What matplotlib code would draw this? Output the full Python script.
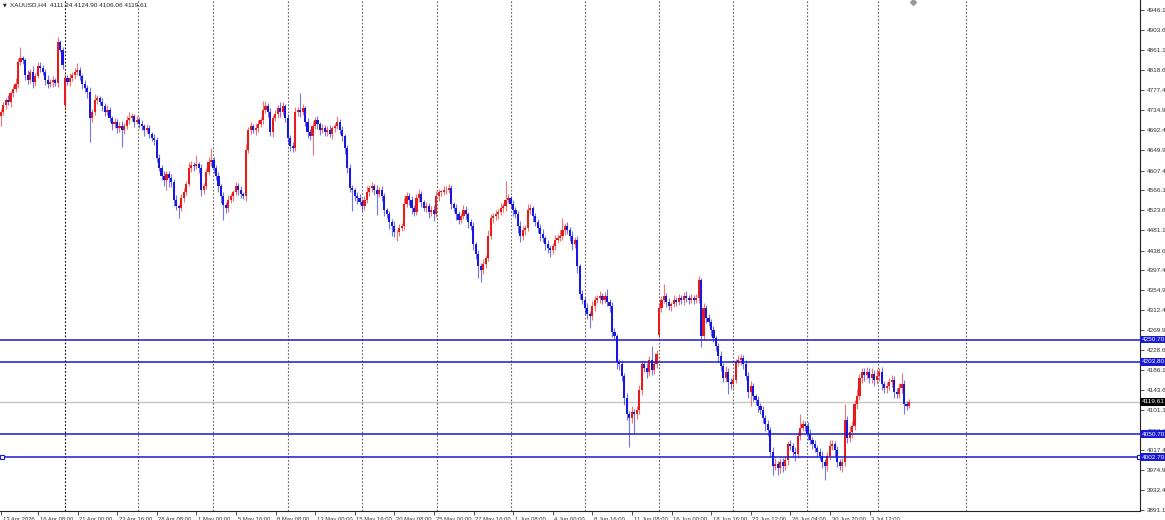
import matplotlib
matplotlib.use("Agg")
import matplotlib.pyplot as plt
import matplotlib.transforms as mtrans
import numpy as np

# ---------------- data ----------------
closes = [
    4731, 4745, 4756, 4751, 4770, 4780, 4790, 4836, 4844, 4840,
    4809, 4798, 4815, 4794, 4807, 4828, 4824, 4815, 4798, 4790,
    4794, 4798, 4792, 4879, 4862, 4830, 4803, 4794, 4803, 4809,
    4815, 4819, 4807, 4790, 4781, 4773, 4718, 4731, 4756, 4760,
    4752, 4743, 4731, 4735, 4718, 4705, 4710, 4697, 4701, 4693,
    4701, 4714, 4718, 4722, 4710, 4714, 4705, 4701, 4693, 4697,
    4684, 4676, 4672, 4634, 4613, 4596, 4587, 4600, 4591, 4583,
    4545, 4532, 4528, 4549, 4562, 4579, 4613, 4619, 4617, 4621,
    4613, 4566, 4575, 4604, 4625, 4629, 4613, 4596, 4575, 4554,
    4534, 4528, 4545, 4553, 4562, 4575, 4566, 4558, 4553, 4651,
    4693, 4701, 4693, 4697, 4705, 4714, 4735, 4743, 4731, 4688,
    4718, 4726, 4739, 4731, 4743, 4718, 4676, 4659, 4655, 4731,
    4735, 4731, 4739, 4710, 4689, 4680, 4701, 4714, 4705, 4693,
    4697, 4689, 4693, 4684, 4697, 4701, 4710, 4693, 4680, 4655,
    4613, 4570, 4566, 4553, 4549, 4541, 4532, 4545, 4562, 4570,
    4575, 4566, 4558, 4566, 4553, 4524, 4515, 4499, 4490, 4477,
    4477, 4486, 4490, 4537, 4553, 4545, 4528, 4520, 4549, 4558,
    4541, 4528, 4532, 4520, 4524, 4515, 4553, 4562, 4562, 4566,
    4566, 4570, 4537, 4528, 4515, 4503, 4511, 4524, 4515, 4499,
    4490, 4452, 4431, 4406, 4397, 4410, 4423, 4469, 4507, 4511,
    4515, 4520, 4528, 4532, 4545, 4549, 4537, 4524, 4515, 4490,
    4469, 4482, 4486, 4524, 4528, 4511, 4499, 4486, 4473, 4465,
    4452, 4444, 4440, 4448, 4461, 4465, 4469, 4482, 4490, 4482,
    4469, 4452, 4461, 4406, 4347, 4334, 4317, 4304, 4300, 4321,
    4334, 4338, 4343, 4334, 4343, 4330, 4321, 4266, 4258, 4203,
    4199, 4174, 4127, 4093, 4085, 4098, 4093, 4102, 4144, 4199,
    4191, 4182, 4207, 4186, 4199, 4220, 4317, 4334, 4343, 4330,
    4321, 4326, 4334, 4330, 4338, 4334, 4343, 4338, 4334, 4338,
    4334, 4338, 4376, 4258, 4317, 4296, 4288, 4271, 4254, 4237,
    4216, 4195, 4170, 4182, 4161, 4157, 4165, 4203, 4207, 4212,
    4199, 4174, 4140, 4153, 4131, 4123, 4110, 4102, 4085, 4072,
    4060, 4013, 3984, 3988, 3980, 3992, 3984, 3996, 4030, 4026,
    4013, 4009, 4047, 4064, 4072, 4068, 4051, 4039, 4030, 4022,
    4013, 4005, 3992, 3984, 4005, 4026, 4030, 4018, 3992, 3984,
    3992, 4081, 4043, 4056, 4068, 4115, 4131, 4169, 4182, 4176,
    4182, 4169, 4178, 4165, 4174, 4182, 4157, 4148, 4153, 4161,
    4165, 4140, 4136, 4148, 4157, 4115, 4111.24, 4119.61,
]

up_wick = [
    6, 8, 5, 10, 6, 8, 12, 9, 24, 6,
    5, 10, 7, 12, 6, 9, 8, 5, 7, 10,
    6, 9, 5, 10, 4, 6, 8, 6, 10, 7,
    8, 15, 6, 5, 8, 6, 10, 7, 12, 6,
    5, 8, 6, 10, 7, 5, 9, 6, 8, 10,
    6, 9, 12, 7, 5, 8, 6, 10, 5, 8,
    7, 5, 9, 6, 8, 5, 10, 7, 6, 9,
    6, 10, 5, 8, 9, 7, 12, 8, 6, 20,
    5, 8, 6, 9, 10, 25, 7, 6, 8, 5,
    8, 6, 10, 7, 5, 9, 6, 8, 5, 12,
    6, 9, 5, 8, 10, 7, 20, 12, 6, 8,
    7, 10, 6, 12, 8, 5, 9, 6, 8, 10,
    6, 35, 8, 5, 9, 6, 10, 7, 8, 5,
    9, 6, 8, 10, 5, 7, 12, 6, 8, 5,
    6, 9, 7, 5, 10, 8, 6, 9, 12, 7,
    8, 5, 10, 6, 9, 7, 5, 8, 6, 10,
    5, 8, 6, 12, 10, 7, 9, 6, 8, 10,
    7, 5, 9, 6, 8, 10, 12, 7, 5, 9,
    8, 10, 6, 5, 9, 7, 6, 10, 8, 5,
    6, 9, 5, 8, 7, 10, 6, 12, 8, 6,
    9, 7, 10, 6, 40, 8, 5, 9, 7, 6,
    10, 8, 6, 12, 9, 5, 7, 6, 8, 10,
    5, 9, 7, 6, 10, 8, 12, 25, 6, 8,
    7, 10, 6, 8, 5, 9, 6, 10, 7, 12,
    8, 6, 10, 7, 9, 15, 6, 8, 10, 5,
    7, 9, 6, 10, 8, 12, 7, 9, 10, 8,
    6, 10, 8, 30, 7, 9, 10, 8, 25, 6,
    8, 5, 10, 7, 9, 6, 8, 10, 7, 9,
    6, 8, 8, 5, 10, 7, 9, 6, 8, 5,
    7, 10, 6, 12, 8, 9, 10, 7, 12, 8,
    6, 9, 8, 10, 7, 5, 9, 6, 8, 7,
    8, 6, 10, 12, 7, 9, 8, 10, 6, 9,
    7, 10, 8, 30, 9, 6, 8, 10, 7, 9,
    6, 8, 10, 7, 9, 12, 8, 6, 9, 7,
    8, 34, 9, 12, 10, 8, 15, 10, 9, 8,
    10, 8, 12, 9, 15, 8, 10, 7, 9, 8,
    10, 8, 9, 12, 23, 8, 7, 5.29,
]

down_wick = [
    20, 6, 8, 5, 10, 7, 6, 9, 5, 8,
    10, 7, 6, 12, 8, 5, 9, 6, 10, 8,
    7, 10, 6, 8, 5, 9, 10, 6, 8, 7,
    9, 6, 8, 10, 7, 12, 50, 8, 6, 9,
    7, 10, 8, 6, 9, 12, 7, 10, 8, 35,
    8, 6, 9, 7, 10, 5, 8, 9, 12, 6,
    9, 7, 10, 8, 6, 9, 12, 20, 18, 10,
    12, 8, 20, 6, 9, 7, 5, 8, 10, 6,
    10, 12, 8, 6, 7, 9, 10, 8, 12, 15,
    30, 10, 8, 6, 9, 7, 10, 8, 6, 9,
    7, 9, 6, 10, 8, 6, 9, 7, 10, 8,
    9, 6, 8, 10, 7, 9, 12, 10, 8, 6,
    8, 10, 6, 9, 12, 8, 40, 7, 9, 10,
    7, 9, 8, 6, 10, 8, 6, 9, 10, 12,
    10, 8, 45, 9, 12, 7, 10, 8, 6, 9,
    8, 10, 45, 7, 9, 12, 8, 15, 20, 10,
    18, 8, 6, 9, 7, 10, 12, 8, 6, 9,
    10, 7, 9, 12, 8, 15, 6, 9, 8, 7,
    9, 6, 10, 8, 12, 9, 7, 6, 10, 12,
    8, 12, 10, 25, 25, 8, 9, 7, 6, 10,
    7, 9, 6, 8, 10, 7, 9, 12, 8, 15,
    12, 8, 10, 6, 9, 12, 8, 10, 15, 9,
    12, 10, 15, 8, 9, 7, 6, 8, 10, 9,
    10, 12, 8, 15, 10, 9, 12, 10, 25, 8,
    9, 7, 10, 8, 6, 9, 12, 10, 8, 15,
    12, 10, 15, 12, 60, 10, 40, 9, 8, 10,
    9, 12, 8, 10, 7, 9, 5, 8, 6, 10,
    8, 10, 7, 9, 6, 8, 10, 7, 9, 6,
    8, 6, 10, 23, 8, 10, 9, 12, 8, 10,
    12, 10, 9, 8, 25, 10, 8, 6, 9, 10,
    10, 8, 12, 30, 9, 10, 12, 8, 10, 15,
    12, 10, 20, 9, 15, 10, 12, 8, 10, 9,
    10, 15, 8, 9, 7, 10, 12, 9, 10, 8,
    10, 9, 12, 30, 10, 8, 9, 12, 10, 8,
    12, 9, 10, 8, 12, 9, 10, 8, 9, 12,
    8, 10, 9, 12, 8, 10, 12, 9, 10, 8,
    10, 12, 9, 8, 10, 22, 9, 5.18,
]

first_open = 4722
gap_opens = {26: 4745, 266: 4260}          # weekend gap opens

level_lines = [4250.7, 4203.8, 4050.7, 4002.7]
level_labels = ["4250.70", "4203.80", "4050.70", "4002.70"]
current_price = 4119.61
current_label = "4119.61"

y_ticks = [4946.1, 4903.6, 4861.1, 4818.6, 4777.4, 4734.9, 4692.4, 4649.9,
           4607.4, 4566.1, 4523.6, 4481.1, 4438.6, 4397.4, 4354.9, 4312.4,
           4269.9, 4228.6, 4186.1, 4143.6, 4101.1, 4058.6, 4017.4, 3974.9,
           3932.4, 3891.1]

x_tick_labels = ["13 Apr 2026", "16 Apr 08:00", "21 Apr 00:00", "23 Apr 16:00",
                 "28 Apr 08:00", "1 May 00:00", "5 May 16:00", "8 May 08:00",
                 "13 May 00:00", "15 May 16:00", "20 May 08:00", "25 May 00:00",
                 "27 May 16:00", "1 Jun 08:00", "4 Jun 00:00", "8 Jun 16:00",
                 "11 Jun 08:00", "16 Jun 00:00", "18 Jun 16:00", "23 Jun 12:00",
                 "26 Jun 04:00", "30 Jun 20:00", "3 Jul 12:00"]

legend_text = "XAUUSD,H4  4111.24 4124.90 4106.06 4119.61"

# ---------------- layout / style ----------------
W, H = 1165, 520
PX = 2.475          # pixels per bar
X0 = 0.65           # pixel of first bar
RED = "#ea1a1a"
BLUE = "#1717e0"
LINE_BLUE = "#1a1ad2"
FONT = ["Liberation Sans", "DejaVu Sans"]
plt.rcParams["font.family"] = FONT

closes_a = np.array(closes, dtype=float)
n = len(closes_a)
assert len(up_wick) == n and len(down_wick) == n, (n, len(up_wick), len(down_wick))
opens_a = np.concatenate([[first_open], closes_a[:-1]])
for k, v in gap_opens.items():
    opens_a[k] = v
highs = np.maximum(opens_a, closes_a) + np.array(up_wick, dtype=float)
lows = np.minimum(opens_a, closes_a) - np.array(down_wick, dtype=float)
xs = np.arange(n)
bull = closes_a >= opens_a
colors = np.where(bull, RED, BLUE)

fig = plt.figure(figsize=(W / 100, H / 100), dpi=100)
fig.patch.set_facecolor("white")
ax = fig.add_axes([0, 9 / H, 1140 / W, 511 / H])
ax.set_facecolor("white")

def px_to_x(p):
    return (p - X0) / PX

ax.set_xlim(px_to_x(0), px_to_x(1140))
ymax = 4946.1 + 10 * 2.11
ymin = 4946.1 - 501 * 2.11
ax.set_ylim(ymin, ymax)

# weekly grid lines
grid_px = [65, 138, 213, 288, 362, 437, 511, 585, 659, 733, 807, 878, 966]
for i, gp in enumerate(grid_px):
    ax.axvline(px_to_x(gp), color="#111111" if i == 0 else "#666666",
               lw=0.8, linestyle=(0, (1.6, 1.6)), zorder=1)

# current price line
ax.axhline(current_price, color="#c4c4c4", lw=1.0, zorder=2)

# candles
ax.vlines(xs, lows, highs, colors=colors, lw=0.8, alpha=0.6, zorder=3)
body_h = np.maximum(np.abs(closes_a - opens_a), 1.2)
ax.bar(xs, body_h, bottom=np.minimum(opens_a, closes_a), width=0.86,
       color=colors, linewidth=0, zorder=4)

# horizontal levels
for lv in level_lines:
    ax.axhline(lv, color=LINE_BLUE, lw=1.1, zorder=5)
# selection handles on the last level
ax.plot([px_to_x(1.5), px_to_x(1139)], [level_lines[-1]] * 2, linestyle="none",
        marker="s", ms=2.6, mfc="white", mec=LINE_BLUE, mew=0.8, zorder=6,
        clip_on=False)

# small marker at the top
ax.plot([px_to_x(913)], [ymax - 1.5 * 2.11], marker="D", ms=3, color="#9a9a9a",
        linestyle="none", clip_on=False, zorder=6)

# axes styling
for s in ["left", "top"]:
    ax.spines[s].set_visible(False)
for s in ["right", "bottom"]:
    ax.spines[s].set_color("#222222")
    ax.spines[s].set_linewidth(0.8)

ax.yaxis.tick_right()
ax.set_yticks(y_ticks)
ax.set_yticklabels([f"{v:.1f}" for v in y_ticks])
ax.tick_params(axis="y", direction="out", length=3, width=0.6, pad=2,
               labelsize=4.6, colors="#333333")

xt = [px_to_x(1)] + [px_to_x(38 + 39.6 * j) for j in range(len(x_tick_labels) - 1)]
ax.set_xticks(xt)
ax.set_xticklabels(x_tick_labels)
ax.tick_params(axis="x", direction="out", length=3, width=0.6, pad=1.2,
               labelsize=4.25, colors="#333333")
offset = mtrans.ScaledTranslation(1.5 / 100, 0, fig.dpi_scale_trans)
for lab in ax.get_xticklabels():
    lab.set_ha("left")
    lab.set_transform(lab.get_transform() + offset)

# price boxes on the right axis
trans = mtrans.blended_transform_factory(ax.transAxes, ax.transData)
for lv, lab in zip(level_lines, level_labels):
    ax.text(1.0015, lv, lab, transform=trans, ha="left", va="center",
            fontsize=4.6, color="white", clip_on=False, zorder=10,
            bbox=dict(boxstyle="square,pad=0.22", fc=LINE_BLUE, ec="none"))
ax.text(1.0015, current_price, current_label, transform=trans, ha="left",
        va="center", fontsize=4.6, color="white", clip_on=False, zorder=10,
        bbox=dict(boxstyle="square,pad=0.22", fc="black", ec="none"))

# legend text top-left
fig.text(3 / W, 1 - 4.5 / H, "\u25BC", fontsize=3.5, va="center", ha="left",
         color="#222222", family=["DejaVu Sans"])
fig.text(10 / W, 1 - 4.5 / H, legend_text, fontsize=4.6, va="center", ha="left",
         color="#222222")

fig.savefig("out.png", dpi=100, facecolor="white")
